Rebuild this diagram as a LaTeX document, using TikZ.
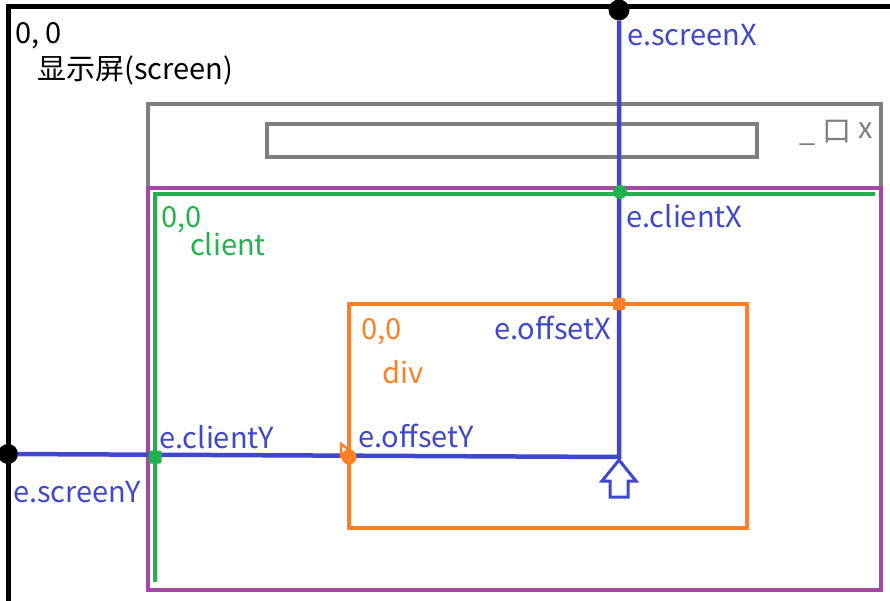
\documentclass[tikz,border=0pt]{standalone}
\usepackage{fontspec}
\setmainfont{Noto Sans CJK SC}
\definecolor{cgray}{HTML}{7F7F7F}
\definecolor{cpurple}{HTML}{A349A4}
\definecolor{cgreen}{HTML}{22B14C}
\definecolor{cblue}{HTML}{3F48CC}
\definecolor{corange}{HTML}{FF7F27}
\begin{document}
\begin{tikzpicture}[x=1pt,y=-1pt,
  lbl/.style={anchor=base west,inner sep=0pt,font=\fontsize{29}{33}\selectfont},
  ctl/.style={anchor=base west,inner sep=0pt,text=cgray,font=\fontsize{29}{33}\selectfont},
  dot/.style={circle,fill=#1,inner sep=0pt,minimum size=14pt},
  sq/.style={rectangle,rounded corners=2pt,fill=#1,inner sep=0pt,minimum size=13pt}]
\useasboundingbox[fill=white] (0,0) rectangle (890,601);
% screen
\draw[line width=5pt] (890,7) -- (8,7) -- (8,601);
\node[lbl] (t00) at (15,44) {0, 0};
\node[lbl] (tscr) at (37,80) {显示屏(screen)};
% window
\draw[cgray,line width=4.5pt] (148,188) -- (148,104) -- (881,104) -- (881,188);
\node[draw=cgray,line width=4.5pt,minimum width=490pt,minimum height=33pt,inner sep=0pt] (addr) at (512,140.5) {};
\node[ctl] (cmin) at (799,142) {\_};
\node[ctl] (cmax) at (822,142) {口};
\node[ctl] (cclose) at (858,139) {x};
% client
\draw[cpurple,line width=4.5pt] (148,188) rectangle (881,590);
\coordinate (gtl) at (155,194);
\draw[cgreen,line width=4.5pt] (875,194) -- (gtl) -- (155,582);
\node[lbl,text=cgreen] (c00) at (161,228) {0,0};
\node[lbl,text=cgreen] (ccl) at (190,256) {client};
% div
\draw[corange,line width=4.5pt] (349,304) rectangle (747,528);
\node[lbl,text=corange] (d00) at (361,339) {0,0};
\node[lbl,text=corange] (ddiv) at (382,383) {div};
% mouse point
\coordinate (m) at (619,457);
\node[dot=black,minimum size=21pt] (sx) at (619,10) {};
\node[dot=black,minimum size=20pt] (sy) at (8,454) {};
\draw[cblue,line width=4.5pt] (sx) -- (m) -- (sy);
\node[dot=cgreen] (cx) at (620,192) {};
\node[sq=cgreen] (cy) at (155,457) {};
\node[sq=corange,minimum size=12pt] (ox) at (619,304) {};
\node[dot=corange,minimum size=15pt] (oy) at (349,457) {};
\draw[corange,line width=2.5pt] (341,444) -- (349,450) -- (341,456) -- cycle;
% cursor
\draw[cblue,line width=3pt,line join=miter] (619,460) -- (636,481) -- (628,481) -- (628,497) -- (610,497) -- (610,481) -- (602,481) -- cycle;
% labels
\node[lbl,text=cblue] (lsx) at (627,46) {e.screenX};
\node[lbl,text=cblue] (lcx) at (626,228) {e.clientX};
\node[lbl,text=cblue] (lox) at (494,339) {e.offsetX};
\node[lbl,text=cblue] (lcy) at (159,448) {e.clientY};
\node[lbl,text=cblue] (loy) at (358,447) {e.offsetY};
\node[lbl,text=cblue] (lsy) at (13,502) {e.screenY};
\end{tikzpicture}
\end{document}
